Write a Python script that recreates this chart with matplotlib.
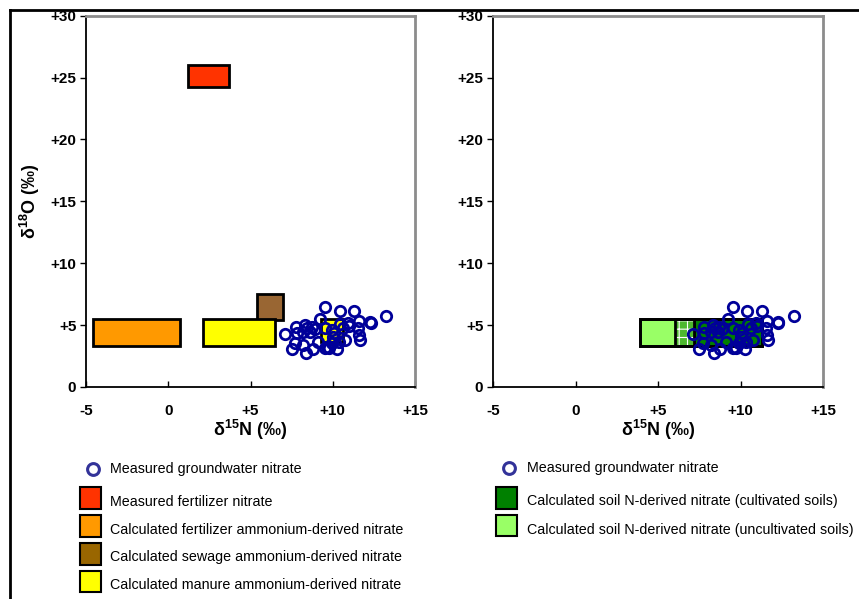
import matplotlib
matplotlib.use("Agg")
import matplotlib.pyplot as plt
from matplotlib.patches import Rectangle
from matplotlib.lines import Line2D

plt.rcParams['font.family'] = ['Liberation Sans', 'DejaVu Sans']
plt.rcParams['mathtext.fontset'] = 'custom'
plt.rcParams['mathtext.rm'] = 'Liberation Sans:bold'
plt.rcParams['mathtext.bf'] = 'Liberation Sans:bold'
plt.rcParams['hatch.linewidth'] = 0.8

# measured groundwater nitrate (d15N, d18O)
gw_d15n = [9.53, 10.42, 11.29, 13.22, 9.22, 11.6, 12.26, 10.95, 10.44, 10.64,
           11.55, 7.77, 8.31, 8.72, 8.62, 8.22, 7.81, 7.12, 9.93, 9.53,
           10.03, 11.6, 11.66, 10.75, 10.35, 9.12, 7.7, 8.2, 7.5, 8.77,
           8.37, 9.53, 10.28, 9.63, 9.93, 10.1, 12.3, 8.9, 8.45, 11.0, 9.75]
gw_d18o = [6.46, 6.16, 6.16, 5.73, 5.49, 5.36, 5.28, 5.2, 5.09, 4.74,
           4.74, 4.87, 5.0, 4.87, 4.47, 4.47, 4.33, 4.28, 4.6, 4.74,
           4.06, 4.2, 3.8, 3.8, 3.66, 3.66, 3.53, 3.39, 3.04, 3.04,
           2.77, 3.12, 3.07, 3.26, 3.53, 4.35, 5.2, 4.7, 4.8, 4.95, 3.15]

# source boxes, left panel
src_names = ['Measured fertilizer nitrate',
             'Calculated fertilizer ammonium-derived nitrate',
             'Calculated sewage ammonium-derived nitrate',
             'Calculated manure ammonium-derived nitrate']
src_n_lo = [1.2, -4.6, 5.4, 2.1]
src_n_hi = [3.7, 0.7, 7.0, 6.5]
src_o_lo = [24.2, 3.3, 5.4, 3.3]
src_o_hi = [26.0, 5.5, 7.5, 5.5]
src_colors = ['#ff3300', '#ff9900', '#996633', '#ffff00']

# second manure box (small one among the points)
manure2_n = [9.3, 10.6]
manure2_o = [3.6, 5.5]

# soil boxes, right panel
soil_names = ['Calculated soil N-derived nitrate (cultivated soils)',
              'Calculated soil N-derived nitrate (uncultivated soils)']
soil_n_lo = [6.0, 3.9]
soil_n_hi = [11.3, 7.2]
soil_o_lo = [3.3, 3.3]
soil_o_hi = [5.5, 5.5]
soil_colors = ['#008000', '#99ff66']

xticks = [-5, 0, 5, 10, 15]
xticklabels = ['-5', '0', '+5', '+10', '+15']
yticks = [0, 5, 10, 15, 20, 25, 30]
yticklabels = ['0', '+5', '+10', '+15', '+20', '+25', '+30']

W, H = 859, 599
fig = plt.figure(figsize=(W / 100, H / 100), dpi=100)

ax1 = fig.add_axes([86 / W, 1 - 387 / H, 329 / W, 371.3 / H])
ax2 = fig.add_axes([493 / W, 1 - 387 / H, 330 / W, 371.3 / H])

gw_color = '#000099'


def style(ax):
    ax.set_xlim(-5, 15)
    ax.set_ylim(0, 30)
    ax.set_xticks(xticks)
    ax.set_xticklabels(xticklabels)
    ax.set_yticks(yticks)
    ax.set_yticklabels(yticklabels)
    for lab in ax.get_xticklabels() + ax.get_yticklabels():
        lab.set_fontweight('bold')
        lab.set_fontsize(11)
    ax.tick_params(axis='x', direction='in', length=4, width=1, pad=12)
    ax.tick_params(axis='y', direction='out', length=4, width=1, pad=3)
    for s in ['left', 'bottom']:
        ax.spines[s].set_color('black')
        ax.spines[s].set_linewidth(1.3)
    for s in ['top', 'right']:
        ax.spines[s].set_color('#8c8c8c')
        ax.spines[s].set_linewidth(2)
    ax.set_xlabel(r'δ$^{15}$N (‰)', fontsize=13, fontweight='bold', labelpad=0)


def box(ax, x0, x1, y0, y1, color, z=2):
    ax.add_patch(Rectangle((x0, y0), x1 - x0, y1 - y0, facecolor=color,
                           edgecolor='black', linewidth=2, zorder=z))


style(ax1)
style(ax2)
ax1.set_ylabel(r'δ$^{18}$O (‰)', fontsize=13, fontweight='bold', labelpad=6)

# left panel
for i in range(len(src_names)):
    box(ax1, src_n_lo[i], src_n_hi[i], src_o_lo[i], src_o_hi[i], src_colors[i])
box(ax1, manure2_n[0], manure2_n[1], manure2_o[0], manure2_o[1], src_colors[3])
ax1.plot(gw_d15n, gw_d18o, 'o', mfc='none', mec=gw_color, mew=2, ms=7.5,
         zorder=3, clip_on=False)

# right panel
box(ax2, soil_n_lo[0], soil_n_hi[0], soil_o_lo[0], soil_o_hi[0], soil_colors[0])
box(ax2, soil_n_lo[1], soil_n_hi[1], soil_o_lo[1], soil_o_hi[1], soil_colors[1])
ov_lo = max(soil_n_lo)
ov_hi = min(soil_n_hi)
ax2.add_patch(Rectangle((ov_lo, soil_o_lo[0]), ov_hi - ov_lo,
                        soil_o_hi[0] - soil_o_lo[0], facecolor='#4db82e',
                        edgecolor='white', hatch='++', linewidth=0, zorder=2.1))
ax2.add_patch(Rectangle((soil_n_lo[0], soil_o_lo[0]), soil_n_hi[0] - soil_n_lo[0],
                        soil_o_hi[0] - soil_o_lo[0], facecolor='none',
                        edgecolor='black', linewidth=2, zorder=2.2))
ax2.add_patch(Rectangle((soil_n_lo[1], soil_o_lo[1]), soil_n_hi[1] - soil_n_lo[1],
                        soil_o_hi[1] - soil_o_lo[1], facecolor='none',
                        edgecolor='black', linewidth=2, zorder=2.2))
ax2.plot(gw_d15n, gw_d18o, 'o', mfc='none', mec=gw_color, mew=2, ms=7.5,
         zorder=3, clip_on=False)

# outer frame (top and left)
fig.add_artist(Line2D([10 / W, 1], [1 - 10 / H, 1 - 10 / H], color='black', lw=2))
fig.add_artist(Line2D([10 / W, 10 / W], [0, 1 - 10 / H], color='black', lw=2))


# legends drawn in figure pixels
def fx(px):
    return px / W


def fy(py):
    return 1 - py / H


def legend_marker(x, y, text, tx):
    fig.add_artist(Line2D([fx(x)], [fy(y)], marker='o', mfc='none', mec='#333399',
                          mew=2.2, ms=8.5))
    fig.text(fx(tx), fy(y), text, fontsize=10.3, va='center', ha='left')


def legend_box(x, y0, y1, color, text, tx, ty):
    fig.add_artist(Rectangle((fx(x), fy(y1)), 21 / W, (y1 - y0) / H,
                             transform=fig.transFigure, facecolor=color,
                             edgecolor='black', linewidth=1.5))
    fig.text(fx(tx), fy(ty), text, fontsize=10.3, va='center', ha='left')


legend_marker(92.7, 469, 'Measured groundwater nitrate', 110)
left_rows = [(487, 509, 502.5), (515, 537, 530), (543, 565, 557), (571, 592, 585)]
leg_colors = ['#ff3300', '#ff9900', '#996600', '#ffff00']
for (y0, y1, ty), c, name in zip(left_rows, leg_colors, src_names):
    legend_box(80, y0, y1, c, name, 110, ty)

legend_marker(509.3, 468, 'Measured groundwater nitrate', 526.7)
right_rows = [(487, 509, 501.5), (515, 536, 530)]
for (y0, y1, ty), c, name in zip(right_rows, soil_colors, soil_names):
    legend_box(496, y0, y1, c, name, 526.7, ty)

fig.savefig('out.png', dpi=100)
